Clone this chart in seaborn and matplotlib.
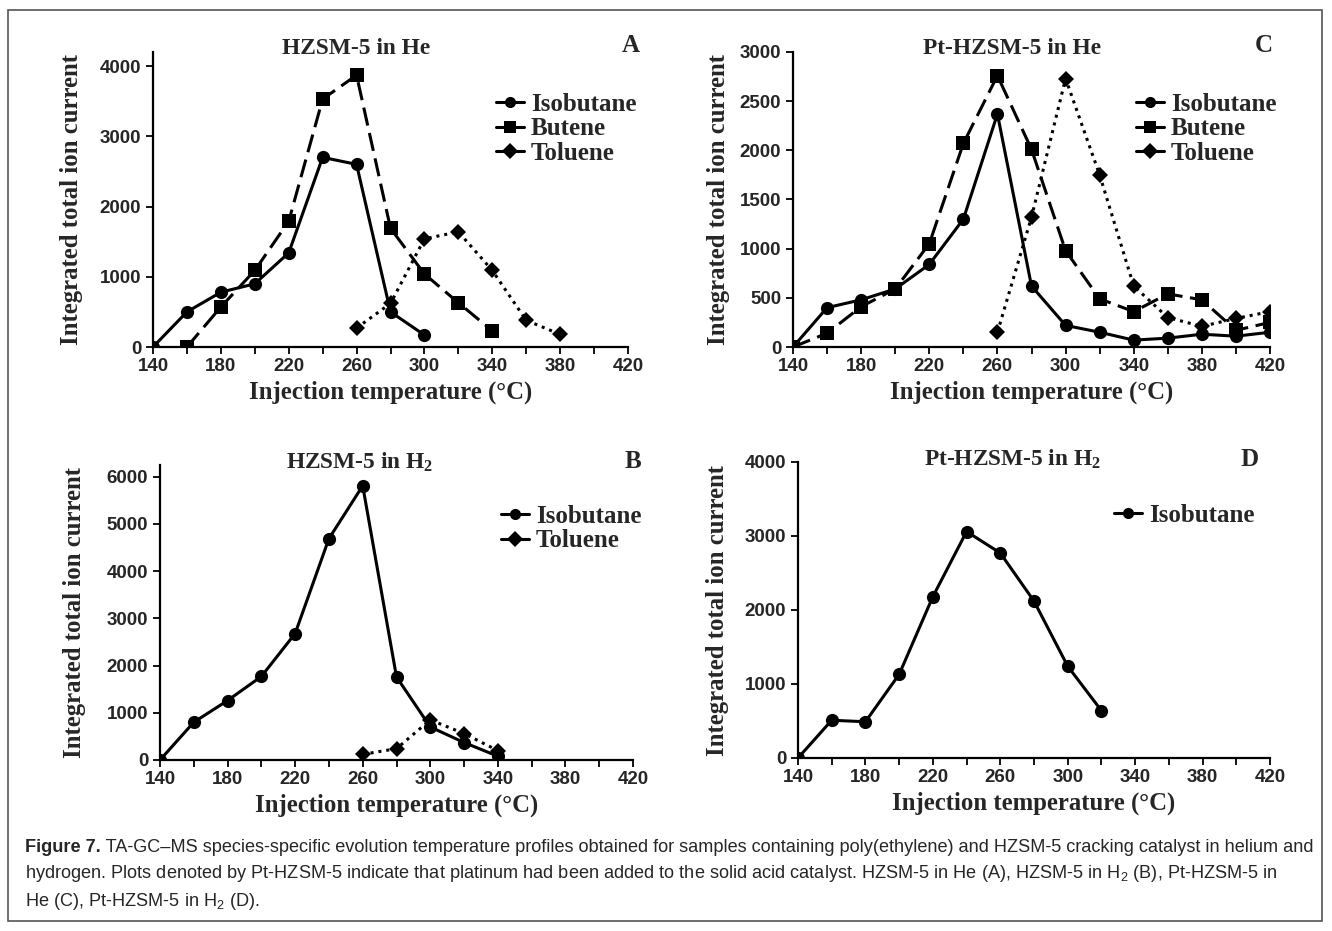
import numpy as np
import pandas as pd
import matplotlib.pyplot as plt
import matplotlib.ticker as mticker
from matplotlib.patches import Rectangle
import seaborn as sns

# --- data ---
# Panel A: HZSM-5 in He
a_iso_t = [140, 160, 180, 200, 220, 240, 260, 280, 300]
a_iso_v = [0, 500, 780, 900, 1340, 2700, 2600, 500, 170]
a_but_t = [160, 180, 200, 220, 240, 260, 280, 300, 320, 340]
a_but_v = [0, 570, 1090, 1790, 3530, 3870, 1690, 1040, 630, 230]
a_tol_t = [260, 280, 300, 320, 340, 360, 380]
a_tol_v = [270, 620, 1540, 1640, 1090, 380, 180]

# Panel B: HZSM-5 in H2
b_iso_t = [140, 160, 180, 200, 220, 240, 260, 280, 300, 320, 340]
b_iso_v = [0, 800, 1260, 1770, 2680, 4690, 5810, 1760, 700, 370, 80]
b_tol_t = [260, 280, 300, 320, 340]
b_tol_v = [120, 240, 850, 560, 200]

# Panel C: Pt-HZSM-5 in He
c_t = [140, 160, 180, 200, 220, 240, 260, 280, 300, 320, 340, 360, 380, 400, 420]
c_iso_v = [0, 400, 480, 590, 840, 1300, 2370, 620, 220, 150, 70, 90, 130, 110, 150]
c_but_v = [0, 140, 410, 590, 1050, 2070, 2760, 2010, 980, 490, 360, 540, 480, 170, 250]
c_tol_t = [260, 280, 300, 320, 340, 360, 380, 400, 420]
c_tol_v = [150, 1320, 2730, 1750, 620, 300, 210, 290, 360]

# Panel D: Pt-HZSM-5 in H2
d_iso_t = [140, 160, 180, 200, 220, 240, 260, 280, 300, 320]
d_iso_v = [0, 510, 490, 1130, 2180, 3060, 2770, 2120, 1240, 640]

x_ticks = [140, 180, 220, 260, 300, 340, 380, 420]

sns.set_style("ticks")
plt.rcParams['font.family'] = ['Liberation Serif', 'DejaVu Serif']
plt.rcParams['mathtext.default'] = 'regular'

serif = ['Liberation Serif', 'DejaVu Serif']
sans = ['Liberation Sans', 'DejaVu Sans']

styles = {
    'Isobutane': dict(marker='o', linestyle='-'),
    'Butene': dict(marker='s', linestyle=(0, (6, 2.5))),
    'Toluene': dict(marker='D', linestyle=(0, (1, 1.6))),
}

fig = plt.figure(figsize=(13.32, 9.31), dpi=100)
fig.patches.append(Rectangle((8 / 1332, 10 / 931), 1314 / 1332, 911 / 931,
                             transform=fig.transFigure, fill=False,
                             edgecolor='#555555', lw=1.2))


def panel(rect, series, ymax, ytop, ystep, title, title_x, letter, letter_xy,
          leg_xy, ypad):
    ax = fig.add_axes(rect)
    for name, t, v in series:
        st = styles[name]
        ms = 8 if st['marker'] == 'D' else 9.5
        sns.lineplot(x=t, y=v, ax=ax, color='black', lw=2.2, marker=st['marker'],
                     markersize=ms, markeredgecolor='black', markeredgewidth=0,
                     linestyle=st['linestyle'], label=name, legend=False)
    ax.set_xlim(140, 420)
    ax.set_ylim(0, ytop)
    ax.xaxis.set_major_locator(mticker.FixedLocator(x_ticks))
    ax.xaxis.set_minor_locator(mticker.MultipleLocator(20))
    ax.set_yticks(np.arange(0, ymax + 1, ystep))
    ax.tick_params(which='both', direction='out', length=5, width=1.3, color='black')
    ax.tick_params(axis='x', pad=3)
    for lab in ax.get_xticklabels() + ax.get_yticklabels():
        lab.set_fontfamily(sans)
        lab.set_fontweight('bold')
        lab.set_fontsize(13.5)
    sns.despine(ax=ax)
    for s in ['left', 'bottom']:
        ax.spines[s].set_linewidth(1.6)
        ax.spines[s].set_color('black')
    ax.set_xlabel('Injection temperature (°C)', fontsize=17.8, fontweight='bold',
                  family=serif, labelpad=4)
    ax.set_ylabel('Integrated total ion current', fontsize=17.8, fontweight='bold',
                  family=serif, labelpad=ypad)
    ax.patch.set_alpha(0)
    top_px = (1 - rect[1] - rect[3]) * 931 - 3
    fig.text(title_x / 1332, 1 - top_px / 931, title, fontsize=16.8,
             fontweight='bold', family=serif, ha='center', va='center')
    fig.text(letter_xy[0] / 1332, 1 - letter_xy[1] / 931, letter, fontsize=18,
             fontweight='bold', family=serif, ha='center', va='center')
    handles, labels = ax.get_legend_handles_labels()
    leg = ax.legend(handles, labels, loc='upper left',
                    bbox_to_anchor=(leg_xy[0] / 1332, 1 - leg_xy[1] / 931),
                    bbox_transform=fig.transFigure, frameon=False,
                    prop=dict(family=serif, weight='bold', size=18),
                    handlelength=1.1, handletextpad=0.3, labelspacing=0.05,
                    borderpad=0, borderaxespad=0)
    for h in leg.get_lines():
        h.set_linestyle('-')
        h.set_markersize(8)
    return ax


panel([153 / 1332, 1 - 347 / 931, 475 / 1332, 295 / 931],
      [('Isobutane', a_iso_t, a_iso_v), ('Butene', a_but_t, a_but_v),
       ('Toluene', a_tol_t, a_tol_v)],
      4000, 4200, 1000, 'HZSM-5 in He', 356, 'A', (631, 46), (496, 93), 12)

panel([793 / 1332, 1 - 347 / 931, 477 / 1332, 295 / 931],
      [('Isobutane', c_t, c_iso_v), ('Butene', c_t, c_but_v),
       ('Toluene', c_tol_t, c_tol_v)],
      3000, 3000, 500, 'Pt-HZSM-5 in He', 1012, 'C', (1264, 46), (1136, 93), 7)

panel([160 / 1332, 1 - 760 / 931, 473 / 1332, 295 / 931],
      [('Isobutane', b_iso_t, b_iso_v), ('Toluene', b_tol_t, b_tol_v)],
      6000, 6250, 1000, 'HZSM-5 in H$_2$', 360, 'B', (633, 461), (501, 505), 15)

panel([798 / 1332, 1 - 758 / 931, 472 / 1332, 296 / 931],
      [('Isobutane', d_iso_t, d_iso_v)],
      4000, 4000, 1000, 'Pt-HZSM-5 in H$_2$', 1013, 'D', (1250, 459), (1114, 504), 11)

# caption
line1_head = 'Figure 7.'
line1_rest = (' TA-GC\u2013MS species-specific evolution temperature profiles obtained for samples '
              'containing poly(ethylene) and HZSM-5 cracking catalyst in helium and')
line2 = ('hydrogen. Plots denoted by Pt-HZSM-5 indicate that platinum had been added to the '
         'solid acid catalyst. HZSM-5 in He (A), HZSM-5 in H$_2$ (B), Pt-HZSM-5 in')
line3 = 'He (C), Pt-HZSM-5 in H$_2$ (D).'

renderer = fig.canvas.get_renderer()
x0 = 25 / 1332
target_w = 1287
cap_size = 13.0
# shrink the caption font until the first line fits the frame
for _ in range(3):
    h = fig.text(x0, 0.5, line1_head, fontsize=cap_size, fontweight='bold', family=sans)
    r = fig.text(x0, 0.5, line1_rest, fontsize=cap_size, family=sans)
    w = h.get_window_extent(renderer).width + r.get_window_extent(renderer).width
    h.remove()
    r.remove()
    cap_size *= target_w / w

t1 = fig.text(x0, 1 - 847 / 931, line1_head, fontsize=cap_size, fontweight='bold',
              family=sans, va='center')
bb = t1.get_window_extent(renderer)
fig.text(bb.x1 / fig.bbox.width, 1 - 847 / 931, line1_rest, fontsize=cap_size,
         family=sans, va='center')
fig.text(x0, 1 - 874 / 931, line2, fontsize=cap_size, family=sans, va='center')
fig.text(x0, 1 - 901 / 931, line3, fontsize=cap_size, family=sans, va='center')

fig.savefig('out.png', dpi=100)
